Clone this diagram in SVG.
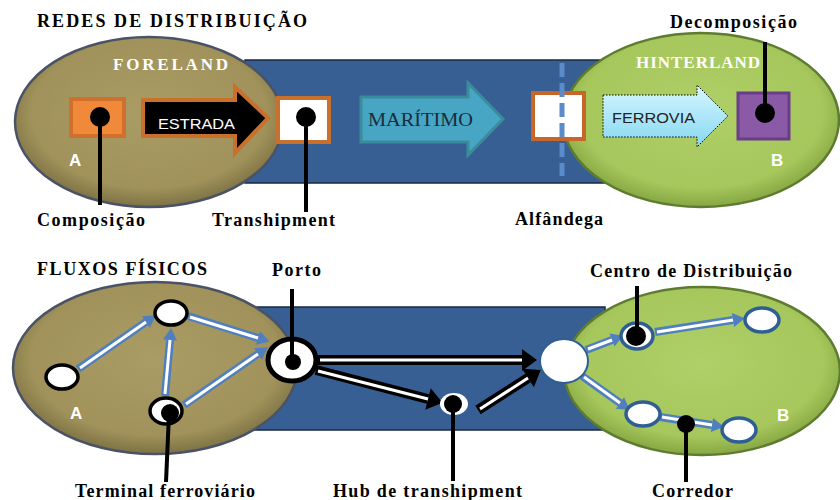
<svg xmlns="http://www.w3.org/2000/svg" width="840" height="500" viewBox="0 0 840 500">
<defs>
<radialGradient id="gOlive" cx="50%" cy="45%" r="55%">
<stop offset="0" stop-color="#a99c64"/><stop offset="0.8" stop-color="#a0925a"/><stop offset="1" stop-color="#7d7244"/>
</radialGradient>
<radialGradient id="gGreen" cx="50%" cy="45%" r="55%">
<stop offset="0" stop-color="#afcf68"/><stop offset="0.8" stop-color="#a6c75c"/><stop offset="1" stop-color="#86a642"/>
</radialGradient>
<linearGradient id="gFerro" x1="0" y1="0" x2="0" y2="1">
<stop offset="0" stop-color="#d6f6ff"/><stop offset="1" stop-color="#86d8f2"/>
</linearGradient>
<marker id="hBlue" markerUnits="userSpaceOnUse" markerWidth="30" markerHeight="30" refX="0" refY="0" orient="auto" overflow="visible">
<path d="M0,-7 L12,0 L0,7 z" fill="#4f7fbf"/>
</marker>
<marker id="hBlack" markerUnits="userSpaceOnUse" markerWidth="30" markerHeight="30" refX="0" refY="0" orient="auto" overflow="visible">
<path d="M0,-11 L15,0 L0,11 z" fill="#000"/>
</marker>
</defs>
<style>
.lbl{font-family:"Liberation Serif","Times New Roman",serif;font-weight:bold;font-size:18px;fill:#000}
.hdr{font-family:"Liberation Serif","Times New Roman",serif;font-weight:bold;font-size:17px;fill:#fff}
.let{font-family:"Liberation Sans",Arial,sans-serif;font-weight:bold;font-size:17px;fill:#fff}
.band{fill:#385f93;stroke:#1a2a40;stroke-width:1.5}
.olive{fill:url(#gOlive);stroke:#4a5266;stroke-width:2.5}
.green{fill:url(#gGreen);stroke:#5e7c30;stroke-width:2.5}
.lead{stroke:#000;stroke-width:4;fill:none}
.dot{fill:#000}
.bo{stroke:#4f7fbf;stroke-width:8;fill:none}
.bi{stroke:#fff;stroke-width:3;fill:none}
.ko{stroke:#000;stroke-width:10;fill:none}
.ki{stroke:#fff;stroke-width:3;fill:none}
.wn{fill:#fff;stroke:#000;stroke-width:3.5}
.gn{fill:#fff;stroke:#2f5f92;stroke-width:3.5}
</style>
<rect width="840" height="500" fill="#fff"/>

<!-- TOP: REDES DE DISTRIBUIÇÃO -->
<text class="lbl" x="37" y="27" textLength="270" lengthAdjust="spacing">REDES DE DISTRIBUIÇÃO</text>
<rect class="band" x="245" y="60" width="360" height="123"/>
<g id="foreland">
<ellipse class="olive" cx="149" cy="122" rx="134" ry="85"/>
<text class="hdr" x="113" y="70" textLength="115" lengthAdjust="spacing">FORELAND</text>
<text class="let" x="69" y="166">A</text>
</g>
<g id="hinterland">
<ellipse class="green" cx="701" cy="120" rx="138" ry="87"/>
<text class="hdr" x="636" y="68" textLength="124" lengthAdjust="spacing">HINTERLAND</text>
<text class="let" x="771" y="166">B</text>
</g>
<g id="estrada">
<path d="M143,100 L235,100 L235,87 L268,118 L235,153 L235,136 L143,136 z" fill="#000" stroke="#c8702c" stroke-width="4"/>
<text x="158" y="129" font-family="'Liberation Sans',Arial,sans-serif" font-size="15" fill="#fff" textLength="77" lengthAdjust="spacingAndGlyphs">ESTRADA</text>
</g>
<g id="maritimo">
<path d="M361,97 L468,97 L468,83 L503,119 L468,155 L468,142 L361,142 z" fill="#46a6c4" stroke="#3a8c9c" stroke-width="3"/>
<text x="368" y="126" font-family="'Liberation Serif','Times New Roman',serif" font-size="18" fill="#1a2c3c" textLength="105" lengthAdjust="spacingAndGlyphs">MARÍTIMO</text>
</g>
<g id="ferrovia">
<path d="M603,95 L697,95 L697,85 L728,116 L697,147 L697,137 L603,137 z" fill="url(#gFerro)" stroke="#000" stroke-width="1" stroke-dasharray="1.5,1.5"/>
<text x="612" y="123" font-family="'Liberation Sans',Arial,sans-serif" font-size="15" fill="#222" textLength="83" lengthAdjust="spacingAndGlyphs">FERROVIA</text>
</g>
<g id="composicao">
<rect x="71" y="99" width="53" height="37" fill="#f08a3a" stroke="#d0702c" stroke-width="4"/>
<line class="lead" x1="100" y1="118" x2="100" y2="205"/>
<circle class="dot" cx="100" cy="117" r="10"/>
<text class="lbl" x="37" y="226" textLength="108" lengthAdjust="spacing">Composição</text>
</g>
<g id="transhipment">
<rect x="278" y="98" width="51" height="44" fill="#fff" stroke="#c8702c" stroke-width="4"/>
<line class="lead" x1="306" y1="118" x2="306" y2="212"/>
<circle class="dot" cx="306" cy="117" r="10"/>
<text class="lbl" x="212" y="226" textLength="123" lengthAdjust="spacing">Transhipment</text>
</g>
<g id="alfandega">
<rect x="533" y="93" width="51" height="46" fill="#fff" stroke="#c8662a" stroke-width="4"/>
<line x1="562" y1="63" x2="562" y2="176" stroke="#5a8ccb" stroke-width="5" stroke-dasharray="14,6"/>
<text class="lbl" x="515" y="225" textLength="88" lengthAdjust="spacing">Alfândega</text>
</g>
<g id="decomposicao">
<rect x="738" y="93" width="51" height="46" fill="#8a5aa6" stroke="#6a3c8a" stroke-width="3"/>
<line class="lead" x1="765" y1="113" x2="765" y2="42"/>
<circle class="dot" cx="765" cy="113" r="10"/>
<text class="lbl" x="670" y="28" textLength="127" lengthAdjust="spacing">Decomposição</text>
</g>

<!-- BOTTOM: FLUXOS FÍSICOS -->
<text class="lbl" x="37" y="275" textLength="170" lengthAdjust="spacing">FLUXOS FÍSICOS</text>
<rect class="band" x="250" y="307" width="355" height="123"/>
<g id="regiaoA">
<ellipse class="olive" cx="155" cy="368" rx="142" ry="86"/>
<text class="let" x="70" y="419">A</text>
</g>
<g id="regiaoB">
<ellipse class="green" cx="702" cy="371" rx="138" ry="84"/>
<text class="let" x="777" y="421">B</text>
</g>

<g id="connectors">
<line class="bo" x1="78" y1="369" x2="146" y2="322" marker-end="url(#hBlue)"/>
<line class="bi" x1="80" y1="368" x2="146" y2="322"/>
<line class="bo" x1="165" y1="396" x2="170" y2="340" marker-end="url(#hBlue)"/>
<line class="bi" x1="165" y1="394" x2="170" y2="340"/>
<line class="bo" x1="188" y1="316" x2="258" y2="338" marker-end="url(#hBlue)"/>
<line class="bi" x1="190" y1="317" x2="258" y2="338"/>
<line class="bo" x1="184" y1="405" x2="258" y2="354" marker-end="url(#hBlue)"/>
<line class="bi" x1="186" y1="404" x2="258" y2="354"/>

<line class="ko" x1="318" y1="360" x2="522" y2="360" marker-end="url(#hBlack)"/>
<line class="ki" x1="320" y1="360" x2="522" y2="360"/>
<line class="ko" x1="316" y1="370" x2="428" y2="399" marker-end="url(#hBlack)"/>
<line class="ki" x1="318" y1="371" x2="428" y2="399"/>
<line class="ko" x1="478" y1="410" x2="528" y2="378" marker-end="url(#hBlack)"/>
<line class="ki" x1="480" y1="409" x2="528" y2="378"/>

<line class="bo" x1="586" y1="350" x2="612" y2="340" marker-end="url(#hBlue)"/>
<line class="bi" x1="588" y1="349" x2="612" y2="340"/>
<line class="bo" x1="655" y1="332" x2="733" y2="320" marker-end="url(#hBlue)"/>
<line class="bi" x1="657" y1="332" x2="733" y2="320"/>
<line class="bo" x1="582" y1="376" x2="620" y2="403" marker-end="url(#hBlue)"/>
<line class="bi" x1="584" y1="377" x2="620" y2="403"/>
<line class="bo" x1="660" y1="417" x2="712" y2="425" marker-end="url(#hBlue)"/>
<line class="bi" x1="662" y1="417" x2="712" y2="425"/>
</g>

<g id="noA1"><ellipse class="wn" cx="62" cy="377" rx="16" ry="12"/></g>
<g id="noA2"><ellipse class="wn" cx="171" cy="313" rx="16" ry="12"/></g>
<g id="terminal">
<ellipse class="wn" cx="166" cy="411" rx="16" ry="13"/>
<circle class="dot" cx="170" cy="413" r="9"/>
<line class="lead" x1="169" y1="414" x2="166" y2="482"/>
<text class="lbl" x="75" y="497" textLength="180" lengthAdjust="spacing">Terminal ferroviário</text>
</g>
<g id="porto">
<ellipse cx="292" cy="360" rx="24" ry="21" fill="#fff" stroke="#000" stroke-width="5"/>
<line class="lead" x1="292" y1="361" x2="292" y2="289"/>
<circle class="dot" cx="293" cy="362" r="8"/>
<text class="lbl" x="272" y="276" textLength="49" lengthAdjust="spacing">Porto</text>
</g>
<g id="hub">
<ellipse cx="454" cy="404" rx="14" ry="11" fill="#fff"/>
<circle class="dot" cx="453" cy="404" r="9"/>
<line class="lead" x1="453" y1="405" x2="453" y2="481"/>
<text class="lbl" x="333" y="497" textLength="189" lengthAdjust="spacing">Hub de transhipment</text>
</g>
<g id="noB0"><ellipse cx="564" cy="361" rx="24" ry="22" fill="#fff" stroke="#2f5f92" stroke-width="2"/></g>
<g id="centro">
<ellipse class="gn" cx="637" cy="336" rx="16" ry="13"/>
<circle class="dot" cx="636" cy="336" r="10"/>
<line class="lead" x1="637" y1="336" x2="637" y2="286"/>
<text class="lbl" x="590" y="277" textLength="202" lengthAdjust="spacing">Centro de Distribuição</text>
</g>
<g id="noB2"><ellipse class="gn" cx="762" cy="320" rx="17" ry="12"/></g>
<g id="noB3"><ellipse class="gn" cx="643" cy="414" rx="17" ry="12"/></g>
<g id="noB4"><ellipse class="gn" cx="739" cy="430" rx="17" ry="12"/></g>
<g id="corredor">
<line class="lead" x1="686" y1="425" x2="686" y2="482"/>
<circle class="dot" cx="686" cy="424" r="9"/>
<text class="lbl" x="652" y="497" textLength="81" lengthAdjust="spacing">Corredor</text>
</g>
</svg>
